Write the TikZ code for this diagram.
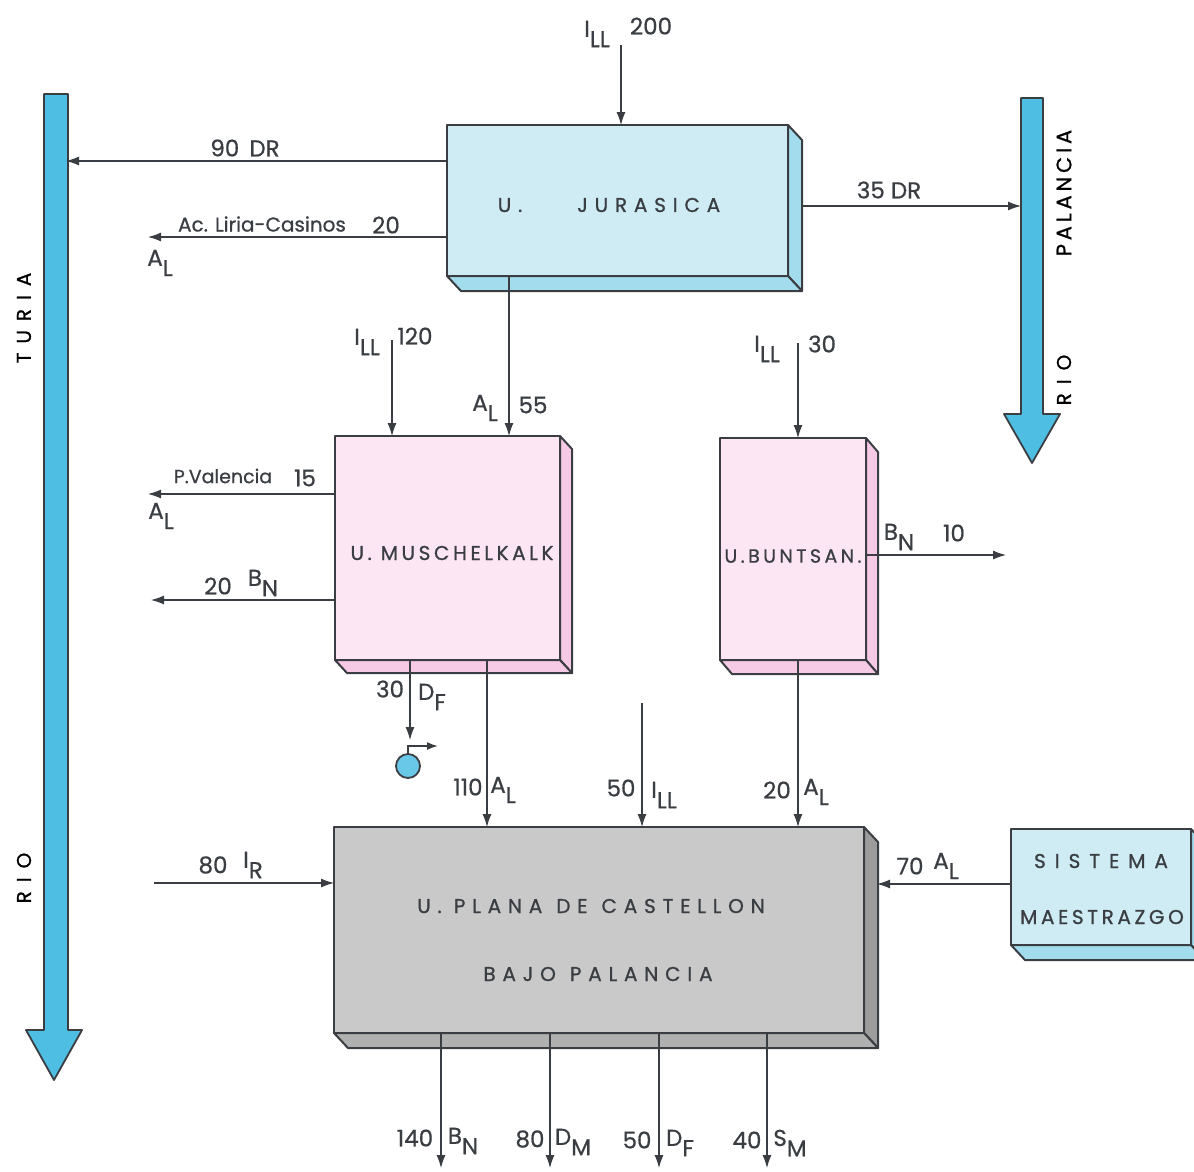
\documentclass[tikz,border=0pt]{standalone}
\usepackage{xcolor}
\usepackage{fontspec}
\setmainfont{Poppins}[RawFeature={embolden=0.7}]
\newfontfamily\widefont[LetterSpace=18,RawFeature={embolden=0.9}]{Poppins}
\newfontfamily\widerfont[LetterSpace=34,RawFeature={embolden=0.9}]{Poppins}
\usetikzlibrary{arrows.meta, calc}

\definecolor{inkgray}{HTML}{3A3E42}
\definecolor{riverblue}{HTML}{4FBEE3}
\definecolor{jurafront}{HTML}{CFECF5}
\definecolor{juraside}{HTML}{A3DDED}
\definecolor{pinkfront}{HTML}{FDE6F4}
\definecolor{pinkside}{HTML}{F6C9E4}
\definecolor{platefront}{HTML}{C9C9C9}
\definecolor{plateside}{HTML}{9C9C9C}
\definecolor{platebase}{HTML}{B0B0B0}

\tikzset{
  flow/.style={draw=inkgray,line width=1.1pt,-{Latex[length=13pt,width=9pt]}},
  lbl/.style={inner sep=0pt,text=inkgray,font=\fontsize{23}{25}\selectfont},
  smalllbl/.style={lbl,font=\fontsize{20}{22}\selectfont},
  blocklbl/.style={inner sep=0pt,text=inkgray,font=\fontsize{20}{22}\selectfont\widefont},
  riverlbl/.style={blocklbl,text=black,rotate=90},
  block/.style={draw=inkgray,line width=2pt,inner sep=0pt,outer sep=0pt,line join=round},
  river/.style={inner sep=0pt,outer sep=0pt,minimum width=#1},
  riverline/.style={draw=inkgray,line width=1.8pt,fill=riverblue,line join=round},
}
% value with a lowered index
\newcommand{\sbs}[2]{#1\raisebox{-0.45em}{#2}}
% side and base of a block
\newcommand{\blockdepth}[5]{%
  \draw[block,fill=#4] (#1.north east) -- ++(#2,#3) -- ($(#1.south east)+(#2,#3)$) -- (#1.south east) -- cycle;
  \draw[block,fill=#5] (#1.south west) -- ++(#2,#3) -- ($(#1.south east)+(#2,#3)$) -- (#1.south east) -- cycle;
}

\begin{document}
\begin{tikzpicture}[x=1pt,y=-1pt]
  \clip (0,0) rectangle (1194,1171);

  % Rivers
  \node[river=24pt,minimum height=936pt] (turia) at (56,562) {};
  \draw[riverline] (turia.north west) -- (turia.north east) -- (turia.south east) -- ++(14,0)
      -- ++(-28,50) -- ++(-28,-50) -- (turia.south west) -- cycle;
  \node[river=22pt,minimum height=316pt] (palancia) at (1032,256) {};
  \draw[riverline] (palancia.north west) -- (palancia.north east) -- (palancia.south east) -- ++(17,0)
      -- ++(-28,49) -- ++(-28,-49) -- (palancia.south west) -- cycle;
  \node[riverlbl] (turianame) at (24,318) {T U R I A};
  \node[riverlbl] (turiario) at (24,878) {R I O};
  \node[riverlbl,font=\fontsize{21}{23}\selectfont\widefont] (palancianame) at (1064,193) {PALANCIA};
  \node[riverlbl] (palanciario) at (1064,380) {R I O};

  % Blocks
  \node[block,fill=jurafront,minimum width=341pt,minimum height=151pt] (jurasica) at (617.5,200.5) {};
  \blockdepth{jurasica}{14}{15}{juraside}{juraside}
  \node[block,fill=pinkfront,minimum width=225pt,minimum height=224pt] (muschel) at (447.5,548) {};
  \blockdepth{muschel}{12}{13}{pinkside}{pinkside}
  \node[block,fill=pinkfront,minimum width=146pt,minimum height=222pt] (buntsan) at (793,549) {};
  \blockdepth{buntsan}{12}{14}{pinkside}{pinkside}
  \node[block,fill=platefront,minimum width=530pt,minimum height=206pt] (plana) at (599,930) {};
  \blockdepth{plana}{14}{15}{plateside}{platebase}
  \node[block,fill=jurafront,minimum width=180pt,minimum height=116pt] (sistema) at (1101,887) {};
  \blockdepth{sistema}{14}{15}{juraside}{juraside}

  % Block names
  \node[blocklbl,font=\fontsize{20}{22}\selectfont\widerfont] (jurasicaname) at (609,205) {U.\hspace{55pt}JURASICA};
  \node[blocklbl] (muschelname) at (452,553) {U. MUSCHELKALK};
  \node[blocklbl,font=\fontsize{19}{21}\selectfont\widefont] (buntsanname) at (793,556) {U.BUNTSAN.};
  \node[blocklbl,font=\fontsize{20}{22}\selectfont\widerfont] (plananame) at (591,906) {U. PLANA\hspace{14pt}DE\hspace{14pt}CASTELLON};
  \node[blocklbl,font=\fontsize{20}{22}\selectfont\widerfont] (bajoname) at (598,974) {BAJO\hspace{14pt}PALANCIA};
  \node[blocklbl] (sistemaname) at (1101,861) {S I S T E M A};
  \node[blocklbl] (maestrazgo) at (1102,917) {MAESTRAZGO};

  % Free ends of the connectors
  \coordinate (topin) at (621,45);
  \coordinate (drleft) at (66,161);
  \coordinate (liriaend) at (148,237);
  \coordinate (drright) at (802,206);
  \coordinate (muschelin) at (392,340);
  \coordinate (alfive) at (509,300);
  \coordinate (buntin) at (798,343);
  \coordinate (valenciaend) at (148,494);
  \coordinate (bnleft) at (151,600);
  \coordinate (bnright) at (1006,555);
  \coordinate (dfend) at (410,740);
  \coordinate (altenx) at (487,700);
  \coordinate (planain) at (642,703);
  \coordinate (altwox) at (798,700);
  \coordinate (irleft) at (154,883);
  \coordinate (alseven) at (877,884);
  \coordinate (bnout) at (441,1168);
  \coordinate (dmout) at (550,1168);
  \coordinate (dfout) at (659,1168);
  \coordinate (smout) at (767,1168);

  % Connectors of U. Jurasica
  \draw[flow] (topin) -- (topin |- jurasica.north);
  \draw[flow] (drleft -| jurasica.west) -- (drleft);
  \draw[flow] (liriaend -| jurasica.west) -- (liriaend);
  \draw[flow] (drright) -- (drright -| palancia.west);
  \draw[flow] (alfive |- jurasica.south) -- (alfive |- muschel.north);

  % Connectors of the two middle blocks
  \draw[flow] (muschelin) -- (muschelin |- muschel.north);
  \draw[flow] (buntin) -- (buntin |- buntsan.north);
  \draw[flow] (valenciaend -| muschel.west) -- (valenciaend);
  \draw[flow] (bnleft -| muschel.west) -- (bnleft);
  \draw[flow] (bnright -| buntsan.east) -- (bnright);
  \draw[flow] (dfend |- muschel.south) -- (dfend);

  % Spring
  \node[circle,draw=inkgray,line width=1.8pt,fill=riverblue!85!white,minimum size=24pt,inner sep=0pt] (spring) at (408,766) {};
  \coordinate (springend) at (438,746);
  \draw[draw=inkgray,line width=1.6pt,-{Latex[length=11pt,width=8pt]}] (spring.north) |- (springend);

  % Connectors of U. Plana
  \draw[flow] (altenx |- muschel.south) -- (altenx |- plana.north);
  \draw[flow] (planain) -- (planain |- plana.north);
  \draw[flow] (altwox |- buntsan.south) -- (altwox |- plana.north);
  \draw[flow] (irleft) -- (irleft -| plana.west);
  \draw[flow] (alseven -| sistema.west) -- (alseven);
  \draw[flow] (bnout |- plana.south) -- (bnout);
  \draw[flow] (dmout |- plana.south) -- (dmout);
  \draw[flow] (dfout |- plana.south) -- (dfout);
  \draw[flow] (smout |- plana.south) -- (smout);

  % Labels, top
  \node[lbl] (illtop) at (597,34) {\sbs{I}{LL}};
  \node[lbl] (val200) at (651,26) {200};
  \node[lbl] (dr90) at (245,148) {90\hspace{4pt} DR};
  \node[smalllbl] (liria) at (262,224) {Ac. Liria-Casinos};
  \node[lbl] (val20a) at (386,225) {20};
  \node[lbl] (alliria) at (160,263) {\sbs{A}{L}};
  \node[lbl] (dr35) at (889,190) {35 DR};

  % Labels, middle
  \node[lbl] (illmu) at (367,342) {\sbs{I}{LL}};
  \node[lbl] (val120) at (415,336) {120};
  \node[lbl] (alju) at (485,408) {\sbs{A}{L}};
  \node[lbl] (val55) at (533,405) {55};
  \node[lbl] (illbu) at (767,349) {\sbs{I}{LL}};
  \node[lbl] (val30b) at (822,344) {30};
  \node[smalllbl,font=\fontsize{19}{21}\selectfont] (valencia) at (223,476) {P.Valencia};
  \node[lbl] (val15) at (305,478) {15};
  \node[lbl] (alval) at (161,516) {\sbs{A}{L}};
  \node[lbl] (val20b) at (218,586) {20};
  \node[lbl] (bnmu) at (263,583) {\sbs{B}{N}};
  \node[lbl] (bnbu) at (899,537) {\sbs{B}{N}};
  \node[lbl] (val10) at (954,533) {10};
  \node[lbl] (val30a) at (390,689) {30};
  \node[lbl] (dfmu) at (432,697) {\sbs{D}{F}};

  % Labels over U. Plana
  \node[lbl] (val110) at (468,787) {110};
  \node[lbl] (almu) at (503,790) {\sbs{A}{L}};
  \node[lbl] (val50a) at (621,788) {50};
  \node[lbl] (illpl) at (664,795) {\sbs{I}{LL}};
  \node[lbl] (val20c) at (777,790) {20};
  \node[lbl] (albu) at (816,792) {\sbs{A}{L}};
  \node[lbl] (val80a) at (213,865) {80};
  \node[lbl] (irpl) at (253,865) {\sbs{I}{R}};
  \node[lbl] (val70) at (910,866) {70};
  \node[lbl] (alsi) at (946,866) {\sbs{A}{L}};

  % Labels, bottom
  \node[lbl] (val140) at (415,1138) {140};
  \node[lbl] (bnpl) at (463,1141) {\sbs{B}{N}};
  \node[lbl] (val80b) at (530,1139) {80};
  \node[lbl] (dmpl) at (573,1142) {\sbs{D}{M}};
  \node[lbl] (val50b) at (637,1140) {50};
  \node[lbl] (dfpl) at (680,1143) {\sbs{D}{F}};
  \node[lbl] (val40) at (747,1140) {40};
  \node[lbl] (smpl) at (790,1143) {\sbs{S}{M}};
\end{tikzpicture}
\end{document}
